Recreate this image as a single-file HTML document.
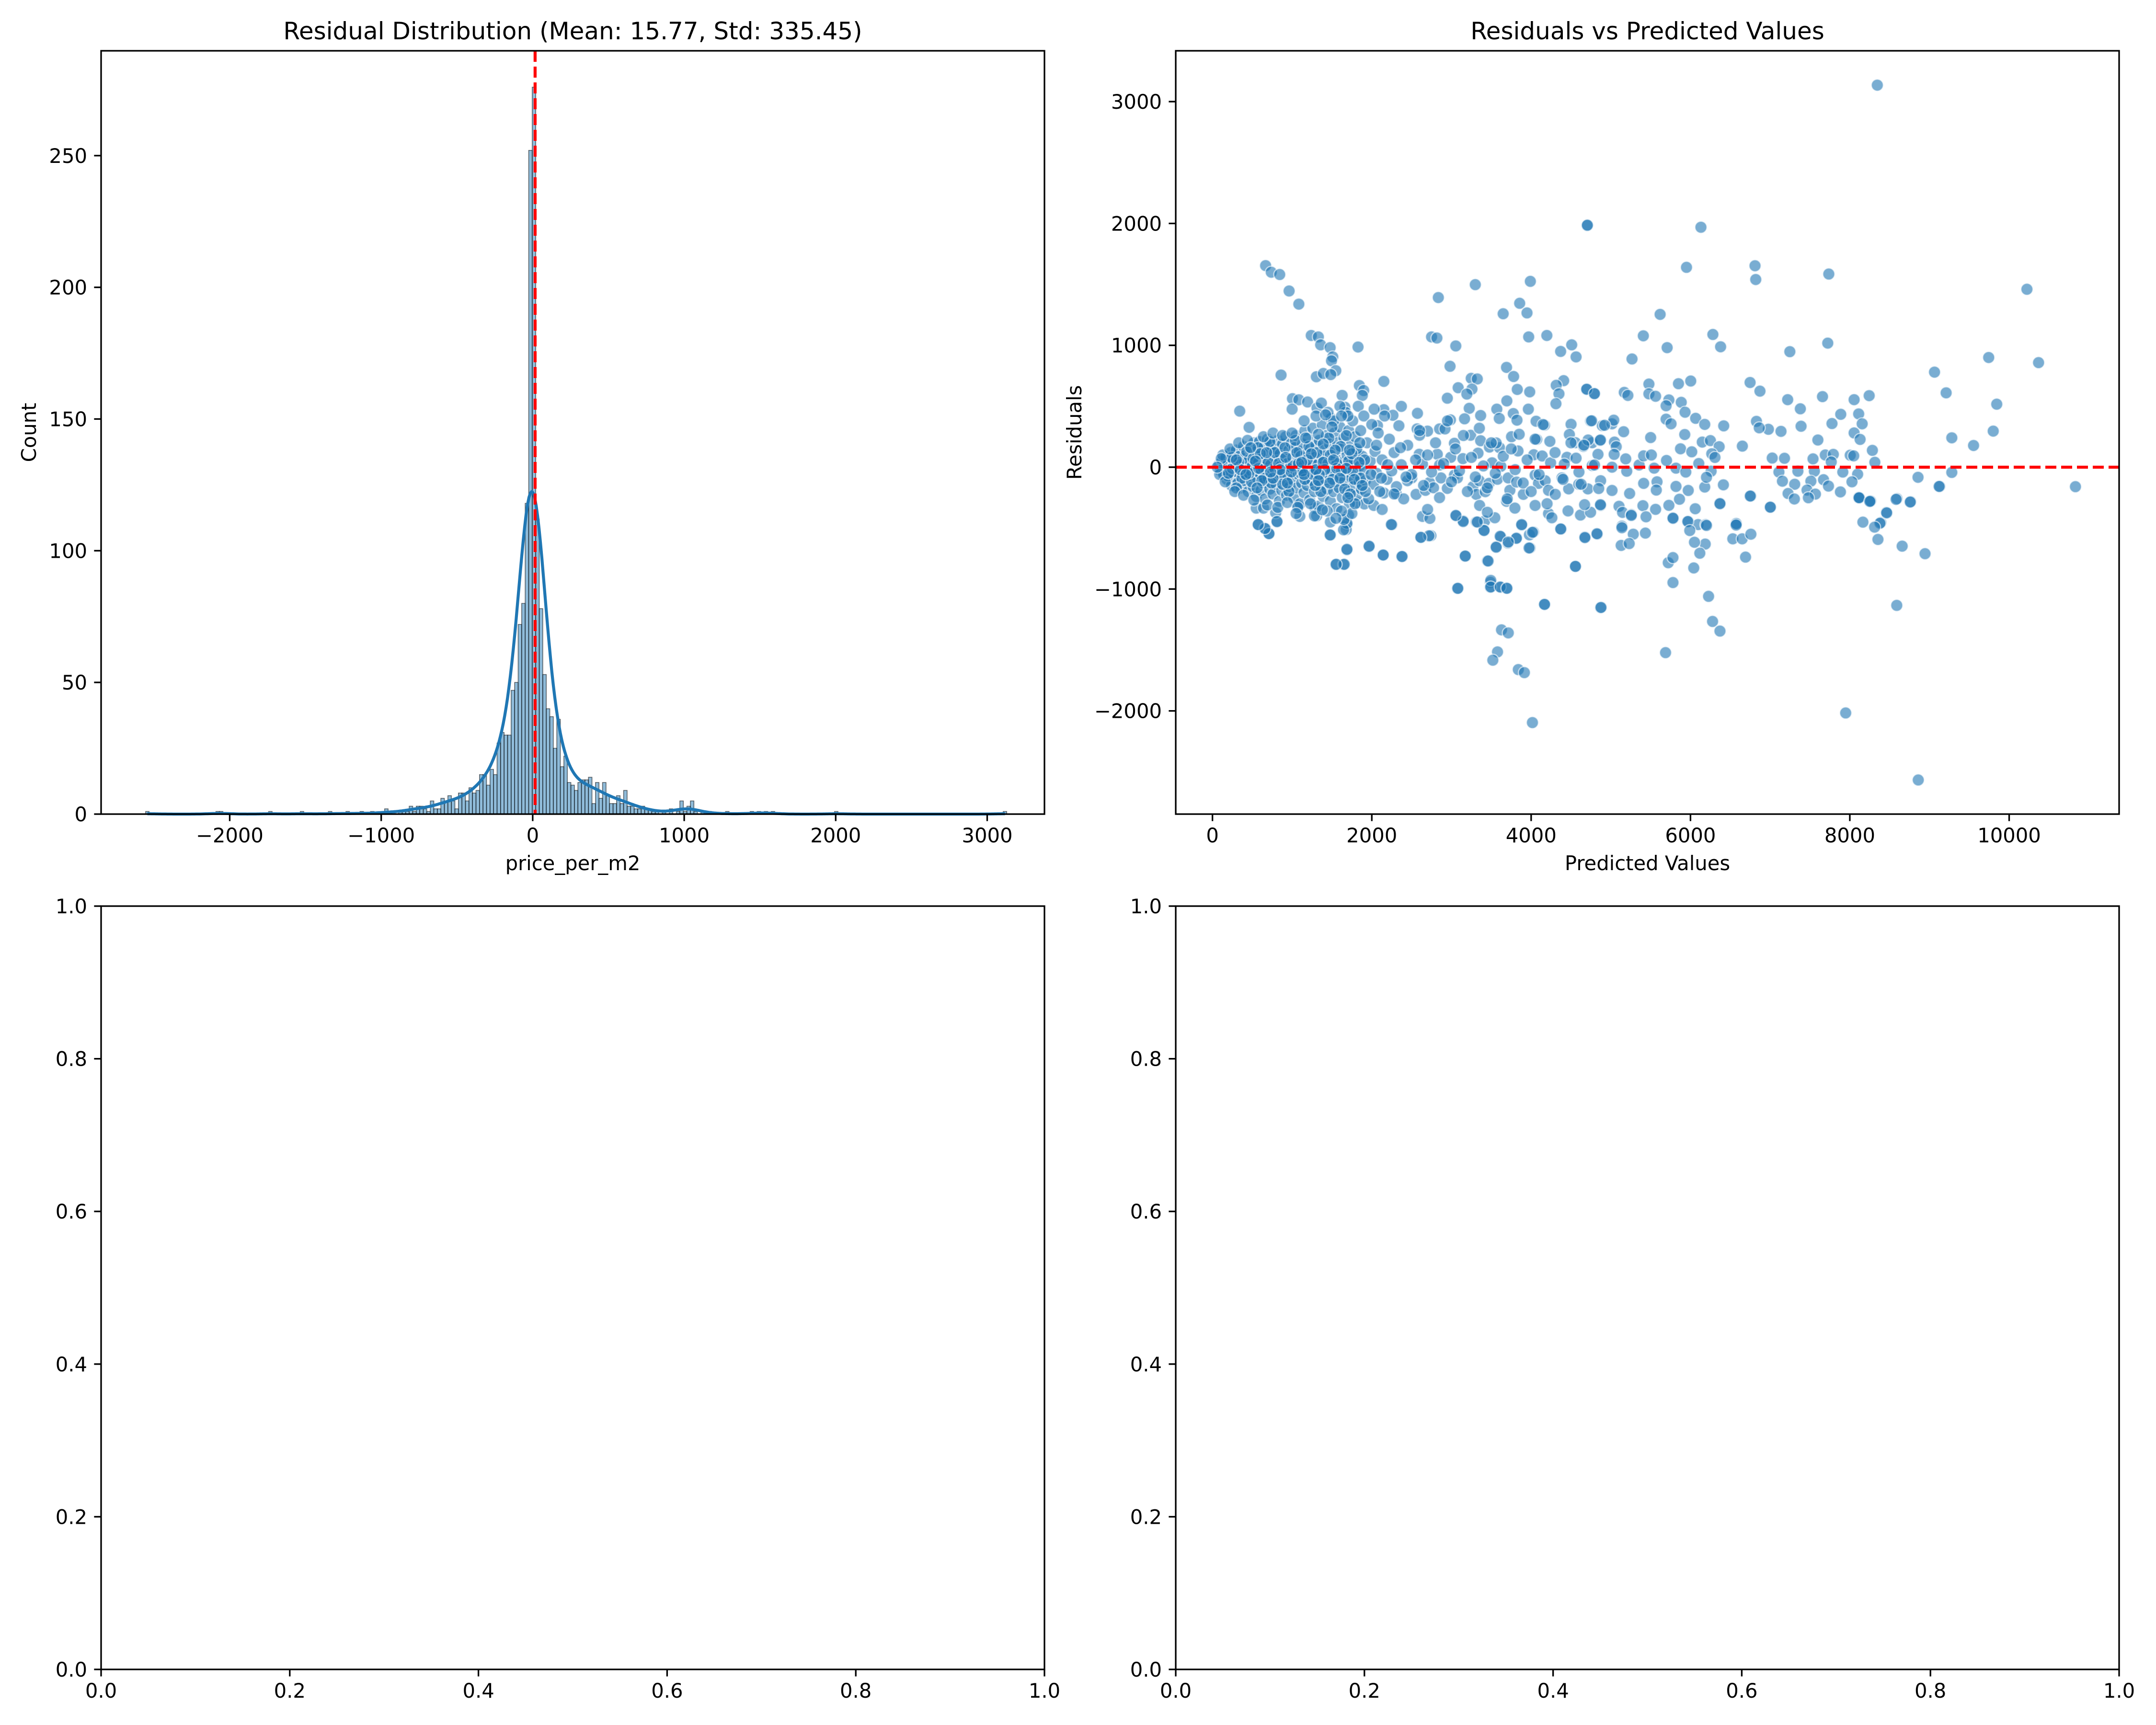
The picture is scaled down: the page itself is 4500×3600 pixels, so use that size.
<!DOCTYPE html>
<html><head><meta charset="utf-8">
<style>
html,body{margin:0;padding:0;background:#fff;}
svg{display:block;}
text{font-family:"DejaVu Sans","Liberation Sans",sans-serif;fill:#000;}
</style></head>
<body>
<svg id="fig" xmlns="http://www.w3.org/2000/svg" width="4500" height="3600" viewBox="0 0 4500 3600">
<rect x="0" y="0" width="4500" height="3600" fill="#fff"/>
</svg>
<script>
// ---------- Histogram data ----------
const histBinStart = -2555.2;
const histBinWidth = 23.2;
const histCounts = [
1,0,0,0,0,0,0,0,0,0,0,0,0,0,0,0,0,0,0,0,
1,1,0,0,0,0,0,0,0,0,0,0,0,0,0,1,0,0,0,0,0,0,0,0,
1,0,0,0,0,0,0,0,1,0,0,0,0,1,0,0,0,1,0,0,1,0,0,0,
2,1,1,0,1,1,1,
3,1,3,3,2,1,5,2,2,6,5,7,5,2,8,8,5,10,8,9,15,15,11,17,15,27,31,30,30,47,50,72,80,118,252,
276,
112,78,53,40,37,25,36,18,22,12,11,9,12,13,13,14,4,12,6,12,7,4,4,7,4,9,3,3,2,2,3,2,2,1,1,0,1,0,2,0,1,5,1,3,5,1,0,
1,0,1,0,0,0,0,1,0,0,0,0,0,0,1,0,1,0,1,0,1,
0,0,0,0,0,0,0,0,0,0,0,0,0,0,0,0,0,1,
0,0,0,0,0,0,0,0,0,0,0,0,0,0,0,0,0,0,0,0,0,0,0,0,0,0,0,0,0,0,0,0,0,0,0,0,0,0,0,0,0,0,0,0,0,0,0,1
];
const histMean = 15.77;
const histXTicks = [-2000,-1000,0,1000,2000,3000];
const histXTickLabels = ["−2000","−1000","0","1000","2000","3000"];
const histYTicks = [0,50,100,150,200,250];
const histYTickLabels = ["0","50","100","150","200","250"];

// ---------- Scatter data ----------
const scatterPredicted = [];
const scatterResiduals = [];
const scatterPoints = [
[667,1654],[738,1600],[844,1581],[962,1446],[1084,1338],[342,460],[460,327],[861,756],[1240,1081],[1329,1069],
[1358,1004],[1477,981],[1510,905],[1494,873],[1548,792],[1304,742],[1392,769],[1485,760],[1827,986],[1004,562],
[1084,553],[1194,535],[1000,476],[1312,485],[1367,526],[1844,670],[1898,629],[1881,589],[2151,704],[2371,499],
[2151,472],[2265,426],[2029,476],[2071,341],[1628,589],[1662,492],[2835,1392],[3299,1498],[3649,1259],[3856,1345],
[3948,1266],[3990,1525],[4703,1983],[2750,1069],[2817,1060],[3054,995],[3969,1069],[4197,1081],[4509,1004],[4564,905],
[4370,950],[2982,828],[3691,819],[3780,744],[3248,729],[3324,724],[4408,710],[4315,672],[4349,602],[4311,521],
[4695,638],[4792,602],[3826,638],[3982,618],[3084,652],[3257,641],[3193,600],[2948,566],[3695,544],[3223,483],
[2573,442],[3965,476],[3569,476],[3366,424],[3776,440],[2987,388],[3164,397],[3822,386],[4062,377],[4168,345],
[4501,352],[4746,379],[4893,341],[2569,314],[2700,296],[2851,314],[2919,314],[2599,262],[3240,262],[4480,268],
[4070,228],[4235,212],[3754,250],[3037,196],[3366,217],[3476,165],[3603,160],[3561,199],[4556,201],[4657,171],
[4767,201],[4864,219],[2595,106],[2822,106],[2991,81],[3143,70],[3333,115],[3835,133],[4033,102],[4138,92],
[4450,81],[4564,74],[2636,25],[2851,18],[3510,36],[3620,7],[4244,36],[4416,25],[4767,14],[2502,-88],
[2447,-111],[2556,-223],[2674,-190],[2725,-126],[2775,-169],[2868,-88],[2948,-174],[3037,-65],[3075,-88],[3269,-160],
[3349,-111],[3312,-223],[3425,-201],[3353,-314],[3472,-133],[3577,-99],[3712,-88],[3733,-190],[3818,-122],[3902,-223],
[4050,-65],[4092,-133],[4176,-111],[4218,-190],[4303,-223],[4387,-88],[4471,-178],[4598,-140],[4712,-178],[4872,-111],
[3691,-280],[3796,-336],[4050,-314],[4218,-381],[4260,-415],[4463,-359],[4619,-393],[4746,-370],[4872,-314],[3058,-399],
[3147,-440],[3312,-449],[3417,-442],[3544,-415],[3451,-370],[2636,-404],[2729,-420],[2700,-347],[2615,-575],[2742,-562],
[3408,-517],[3620,-571],[3818,-580],[3881,-476],[3986,-663],[3978,-555],[4029,-532],[4374,-508],[4674,-573],[4830,-550],
[3561,-652],[3708,-623],[3172,-731],[3451,-769],[4556,-814],[3075,-995],[3488,-945],[3488,-986],[3620,-986],[3691,-993],
[4168,-1126],[4872,-1153],[2253,-472],[1966,-652],[2143,-720],[2375,-733],[1481,-557],[1687,-679],[1548,-799],[1645,-799],
[574,-472],[667,-505],[709,-544],[810,-449],[793,-374],[549,-336],[641,-336],[1076,-314],[1097,-404],[1287,-336],
[1308,-399],[1687,-472],[1679,-512],[1708,-393],[1814,-291],[1907,-302],[2025,-314],[2130,-347],[2307,-217],[2151,-212],
[8345,3135],[4706,1986],[6131,1969],[5950,1640],[6810,1653],[6819,1540],[7736,1585],[10223,1460],[5619,1254],[5408,1078],
[6281,1089],[5707,981],[6378,988],[5266,888],[7247,948],[7723,1018],[9743,900],[10369,858],[9063,780],[9209,610],
[9844,517],[9800,296],[9280,241],[9553,178],[10832,-160],[8856,-83],[9129,-158],[9280,-43],[8764,-283],[8592,-258],
[8459,-371],[8389,-454],[8252,-278],[8111,-246],[8164,-451],[6748,695],[6872,624],[7220,554],[7379,479],[7657,579],
[8054,554],[8243,587],[7886,434],[8111,437],[8155,356],[7776,358],[7388,336],[7136,294],[6978,311],[6828,376],
[6863,323],[6651,173],[7599,223],[8054,281],[8129,228],[8283,138],[8314,40],[7026,75],[7180,73],[7538,68],
[7692,100],[7793,105],[7767,43],[8005,98],[8049,93],[7110,-40],[7348,-33],[7555,-33],[7912,-40],[8098,-58],
[7154,-115],[7308,-140],[7511,-115],[7670,-103],[7732,-155],[8027,-120],[7225,-216],[7463,-188],[7568,-221],[7882,-203],
[7304,-261],[7480,-251],[8111,-251],[8261,-278],[6757,-236],[6999,-329],[6572,-461],
[4698,640],[4795,604],[5169,614],[5214,589],[5478,682],[5478,602],[5562,582],[5849,685],[6003,707],[5729,552],
[5694,504],[5884,532],[5932,451],[5694,394],[5756,356],[6065,401],[6179,351],[6417,339],[4759,381],[5015,356],
[5037,386],[4922,344],[5161,291],[5500,243],[4870,223],[4715,223],[4662,181],[5046,206],[5068,168],[4839,105],
[5042,105],[5187,68],[5355,18],[5412,93],[5509,100],[5699,55],[5928,268],[5875,151],[6016,126],[6148,206],
[6250,218],[6360,168],[6267,110],[6307,80],[4795,18],[5015,0],[5200,-33],[5544,-8],[5818,-8],[5941,-40],
[6104,30],[6259,-33],[4627,-140],[4848,-175],[5015,-191],[5236,-216],[5412,-133],[5580,-120],[5571,-188],[5818,-158],
[5972,-191],[6179,-163],[6413,-145],[6201,-83],[4870,-308],[4671,-308],[5103,-321],[5147,-371],[5258,-389],[5403,-316],
[5562,-346],[5729,-313],[5862,-263],[6060,-341],[6369,-296],[5782,-421],[5972,-446],[6096,-471],[6192,-471],[6576,-464],
[5139,-484],
[9121,-158],[8117,-251],[8251,-281],[8581,-264],[8758,-286],[8463,-375],[8378,-460],[8311,-492],[8353,-593],[8657,-648],
[8944,-710],[8589,-1134],[7948,-2017],[8859,-2567],[7003,-328],[6750,-237],[6573,-475],[6531,-588],[6649,-588],[6758,-550],
[6691,-738],[6370,-300],[6201,-478],[6185,-631],[6117,-706],[6050,-616],[6041,-827],[5966,-446],[5991,-520],[5780,-418],
[5721,-784],[5780,-742],[5780,-947],[5687,-1522],[6227,-1060],[6277,-1266],[6370,-1345],[5434,-541],[5282,-550],[5130,-642],
[5231,-627],[5139,-497],[5257,-396],[5442,-407],[4826,-546],[4675,-578],[4556,-814],[4877,-1151],[4168,-1126],[4371,-507],
[3974,-663],[4016,-535],[3881,-471],[3814,-584],[3611,-567],[3561,-657],[3713,-614],[3460,-770],[3080,-994],[3493,-929],
[3493,-983],[3611,-983],[3696,-994],[3628,-1335],[3713,-1360],[3578,-1516],[3519,-1584],[3839,-1661],[3915,-1686],[4016,-2096],
[3173,-729],[3409,-520],[3324,-450],[3147,-446],[3055,-396],[2717,-563],[2616,-576],[2380,-733],[2143,-721],[1966,-648],
[2245,-471],[1688,-674],[1654,-797],[1553,-797],[1477,-556],[1688,-460],[1645,-514],[810,-446],[709,-546],[658,-503],
[574,-471],
[80,20],[100,-30],[120,50],[140,-60],[150,10],[170,80],[180,-100],[200,30],[210,-20],[230,120],
[240,-150],[260,60],[270,-80],[290,0],[300,140],[310,-40],[320,-130],[340,90],[350,20],[360,-170],
[380,-60],[390,170],[400,40],[410,-110],[420,100],[440,-20],[450,-200],[460,60],[470,150],[480,-70],
[500,10],[510,-160],[520,200],[530,90],[540,-30],[550,-240],[560,130],[570,-100],[580,40],[590,210],
[600,-60],[610,-190],[620,100],[630,0],[640,-130],[650,170],[660,-260],[670,60],[680,-30],[690,230],
[700,-90],[710,120],[720,-180],[730,20],[740,180],[750,-50],[760,-220],[770,90],[780,-10],[790,150],
[800,-140],[810,50],[820,220],[830,-80],[840,-280],[850,110],[860,10],[870,-190],[880,190],[890,-40],
[900,70],[910,-120],[920,250],[930,-230],[940,30],[950,-70],[960,140],[970,-160],[980,0],[990,200],
[1000,-100],[1010,80],[1020,-250],[1030,160],[1040,-20],[1050,260],[1060,-170],[1070,40],[1080,-60],[1090,130],
[1100,-300],[1110,90],[1120,-130],[1130,190],[1140,10],[1150,-210],[1160,300],[1170,-50],[1180,110],[1190,-150],
[1200,240],[1210,-10],[1220,-270],[1230,150],[1240,50],[1250,-110],[1260,320],[1270,-40],[1280,-200],[1290,80],
[1300,180],[1310,-80],[1320,20],[1330,-320],[1340,220],[1350,-150],[1360,100],[1370,-20],[1380,350],[1390,-240],
[1400,60],[1410,140],[1420,-100],[1430,260],[1440,-180],[1450,30],[1460,-60],[1470,190],[1480,-280],[1490,400],
[1500,-30],[1510,120],[1520,-200],[1530,280],[1540,-120],[1550,70],[1560,-340],[1570,200],[1580,0],[1590,-170],
[1600,330],[1610,-70],[1620,150],[1630,-250],[1640,40],[1650,240],[1660,-110],[1670,450],[1680,-40],[1690,100],
[1700,-200],[1710,300],[1720,-300],[1730,20],[1740,180],[1750,-90],[1760,380],[1770,-160],[1780,60],[1790,250],
[1800,-50],[1810,-230],[1820,130],[1830,500],[1840,-120],[1850,10],[1860,300],[1870,-180],[1880,90],[1890,-30],
[1900,420],[1920,-110],[1940,200],[1960,-260],[1980,50],[2000,350],[2020,-140],[2040,130],[2060,-50],[2080,280],
[2100,-200],[2130,60],[2160,420],[2190,-100],[2220,230],[2250,-30],[2280,120],[2310,-160],[2340,340],[2370,20],
[2400,-260],[2450,180],[2500,-60],[2550,60],[2600,300],[2650,-150],[2700,100],[2750,-40],[2800,200],[2850,-250],
[2900,30],[2950,380],[3000,-120],[3050,150],[3100,-30],[3150,260],[3200,-200],[3250,80],[3300,-80],[3350,320],
[3400,10],[3450,-170],[3500,200],[3550,-50],[3600,400],[3650,90],[3700,-260],[3750,150],[3800,-20],[3850,270],
[3900,-130],[3950,60],[4000,-200],[4050,230],[4100,-60],[4150,350],[4200,-300],[4300,120],[4400,-100],[4500,200],
[4600,-40],
[130,100],[190,-70],[250,-10],[330,40],[370,-90],[430,130],[490,-120],[510,70],[570,160],[610,-20],
[650,-90],[700,40],[740,-130],[780,120],[830,30],[870,-60],[910,160],[960,-200],[1010,10],[1060,120],
[1110,-50],[1160,-100],[1210,170],[1260,-60],[1310,120],[1360,-200],[1410,-20],[1460,240],[1510,-100],[1560,30],
[1610,170],[1660,-180],[1710,50],[1760,-30],[1810,150],[1860,-90],[1910,60],[240,80],[300,-170],[460,-50],
[600,110],[720,210],[880,-140],[1040,220],[1190,60],[1340,-60],[1480,100],[1620,-30],[1780,-100],[1450,450],
[1520,380],[1600,500],[1700,420],[1280,-400],[1480,-450],[1650,-430],[1750,-380],
[90,-60],[110,70],[160,-120],[220,150],[280,-200],[330,200],[390,-230],[440,220],[520,-270],[580,-10],
[640,250],[690,-310],[760,280],[820,-330],[880,260],[940,-290],[1000,280],[1070,-330],[1130,-30],[1170,240],
[1230,-300],[1290,-150],[1330,270],[1390,190],[1440,-360],[1500,330],[1560,-10],[1620,-360],[1680,260],[1730,-220],
[1790,-300],[1850,200],[1300,420],[1380,-350],[1420,430],[1550,-420],[1620,420],[1700,-250],[1150,380],[1050,-380],
[60,0],[200,-50],[350,-20],[420,-60],[540,50],[620,-110],[680,120],[760,-90],[850,-20],[920,80],
[990,-40],[1080,30],[1150,-60],[1240,110],[1300,-20],[1390,40],[1470,-130],[1540,140],[1600,-90],[1680,-10],
[1750,110],[1840,40],[1920,-200],[1990,-60],[2060,180],[2120,-90],[2200,20],[2280,-220],[2360,160],[2430,-80],
[300,60],[480,160],[560,-170],[730,-40],[940,-130],[1120,40],[1330,-110],[1520,60],[1720,140],[1880,-150]
];
scatterPoints.forEach(p => { scatterPredicted.push(p[0]); scatterResiduals.push(p[1]); });
const scatterXTicks = [0,2000,4000,6000,8000,10000];
const scatterXTickLabels = ["0","2000","4000","6000","8000","10000"];
const scatterYTicks = [-2000,-1000,0,1000,2000,3000];
const scatterYTickLabels = ["−2000","−1000","0","1000","2000","3000"];
const emptyTicks = [0,0.2,0.4,0.6,0.8,1.0];
const emptyTickLabels = ["0.0","0.2","0.4","0.6","0.8","1.0"];

// ---------- Drawing ----------
const NS = "http://www.w3.org/2000/svg";
const svg = document.getElementById("fig");
function mk(tag, attrs, parent) {
  const e = document.createElementNS(NS, tag);
  for (const k in attrs) e.setAttribute(k, attrs[k]);
  (parent || svg).appendChild(e);
  return e;
}
const A1 = {x0:211, x1:2180, y0:106, y1:1699, xmin:-2849, xmax:3378, ymin:0, ymax:289.8};
const A2 = {x0:2454, x1:4423, y0:106, y1:1699, xmin:-461, xmax:11380, ymin:-2847, ymax:3417};
const A3 = {x0:211, x1:2180, y0:1891, y1:3484, xmin:0, xmax:1, ymin:0, ymax:1};
const A4 = {x0:2454, x1:4423, y0:1891, y1:3484, xmin:0, xmax:1, ymin:0, ymax:1};
function sx(a, v) { return a.x0 + (v - a.xmin) / (a.xmax - a.xmin) * (a.x1 - a.x0); }
function sy(a, v) { return a.y1 - (v - a.ymin) / (a.ymax - a.ymin) * (a.y1 - a.y0); }

function drawAxes(a, name, xt, xtl, yt, ytl) {
  const g = mk("g", {});
  
  
  mk("rect", {x:a.x0, y:a.y0, width:a.x1-a.x0, height:a.y1-a.y0, fill:"none", stroke:"#000", "stroke-width":3.3}, g);
  xt.forEach((v, i) => {
    const x = sx(a, v);
    const t = mk("line", {x1:x, x2:x, y1:a.y1, y2:a.y1+14.6, stroke:"#000", "stroke-width":3.3}, g);
    
    
    const l = mk("text", {x:x, y:a.y1+59, "font-size":41.7, "text-anchor":"middle"}, g);
    l.textContent = xtl[i];
    
    
  });
  yt.forEach((v, i) => {
    const y = sy(a, v);
    const t = mk("line", {x1:a.x0-14.6, x2:a.x0, y1:y, y2:y, stroke:"#000", "stroke-width":3.3}, g);
    
    
    const l = mk("text", {x:a.x0-29, y:y+15, "font-size":41.7, "text-anchor":"end"}, g);
    l.textContent = ytl[i];
    
    
  });
}
function addText(str, x, y, size, name, rot) {
  const t = mk("text", {x:x, y:y, "font-size":size, "text-anchor":"middle"});
  if (rot) t.setAttribute("transform", "rotate(-90 " + x + " " + y + ")");
  t.textContent = str;
  
  
  return t;
}

// Histogram bars
const hg = mk("g", {});


histCounts.forEach((c, i) => {
  if (c <= 0) return;
  const l = histBinStart + i * histBinWidth;
  const x0 = sx(A1, l), x1 = sx(A1, l + histBinWidth);
  const y = sy(A1, c);
  const r = mk("rect", {x:x0, y:y, width:x1-x0, height:sy(A1,0)-y, fill:"#1f77b4", "fill-opacity":0.5, stroke:"#000", "stroke-opacity":0.55, "stroke-width":1.6}, hg);
  
  
});
// KDE computed from binned counts
(function() {
  let n = 0, s = 0, s2 = 0;
  histCounts.forEach((c, i) => { const m = histBinStart + (i + 0.5) * histBinWidth; n += c; s += c * m; s2 += c * m * m; });
  const mean = s / n, sd = Math.sqrt(s2 / n - mean * mean);
  const bw = 1.12 * sd * Math.pow(n, -0.2);
  let lo = Infinity, hi = -Infinity;
  histCounts.forEach((c, i) => { if (c > 0) { const m = histBinStart + (i + 0.5) * histBinWidth; lo = Math.min(lo, m); hi = Math.max(hi, m); } });
  let d = "";
  const steps = 600;
  for (let k = 0; k <= steps; k++) {
    const x = lo + (hi - lo) * k / steps;
    let dens = 0;
    histCounts.forEach((c, i) => {
      if (!c) return;
      const m = histBinStart + (i + 0.5) * histBinWidth;
      const z = (x - m) / bw;
      dens += c * Math.exp(-0.5 * z * z);
    });
    dens = dens / (Math.sqrt(2 * Math.PI) * bw) * histBinWidth;
    d += (k ? "L" : "M") + sx(A1, x).toFixed(1) + "," + sy(A1, dens).toFixed(1);
  }
  const p = mk("path", {d:d, fill:"none", stroke:"#1f77b4", "stroke-width":6.25, "stroke-linejoin":"round"});
  
  
})();
const meanLine = mk("line", {x1:sx(A1,histMean), x2:sx(A1,histMean), y1:A1.y0, y2:A1.y1, stroke:"#ff0000", "stroke-width":6.25, "stroke-dasharray":"23,10"});



// Scatter
const sg = mk("g", {});


scatterPredicted.forEach((xv, i) => {
  const c = mk("circle", {cx:sx(A2,xv), cy:sy(A2,scatterResiduals[i]), r:12.5, fill:"#1f77b4", "fill-opacity":0.6, stroke:"#ffffff", "stroke-opacity":0.6, "stroke-width":2.5}, sg);
  
  
});
const zeroLine = mk("line", {x1:A2.x0, x2:A2.x1, y1:sy(A2,0), y2:sy(A2,0), stroke:"#ff0000", "stroke-width":6.25, "stroke-dasharray":"23,10"});



// Axes frames, ticks
drawAxes(A1, 'histogram', histXTicks, histXTickLabels, histYTicks, histYTickLabels);
drawAxes(A2, 'scatter', scatterXTicks, scatterXTickLabels, scatterYTicks, scatterYTickLabels);
drawAxes(A3, 'empty-left', emptyTicks, emptyTickLabels, emptyTicks, emptyTickLabels);
drawAxes(A4, 'empty-right', emptyTicks, emptyTickLabels, emptyTicks, emptyTickLabels);

// Titles and labels
addText("Residual Distribution (Mean: 15.77, Std: 335.45)", (A1.x0+A1.x1)/2, 82, 50, 'histogram-title');
addText("Residuals vs Predicted Values", (A2.x0+A2.x1)/2, 82, 50, 'scatter-title');
addText("price_per_m2", (A1.x0+A1.x1)/2, 1816, 41.7, 'histogram-x-axis-title');
addText("Predicted Values", (A2.x0+A2.x1)/2, 1816, 41.7, 'scatter-x-axis-title');
addText("Count", 75, (A1.y0+A1.y1)/2, 41.7, 'histogram-y-axis-title', true);
addText("Residuals", 2257, (A2.y0+A2.y1)/2, 41.7, 'scatter-y-axis-title', true);
</script>
</body></html>
